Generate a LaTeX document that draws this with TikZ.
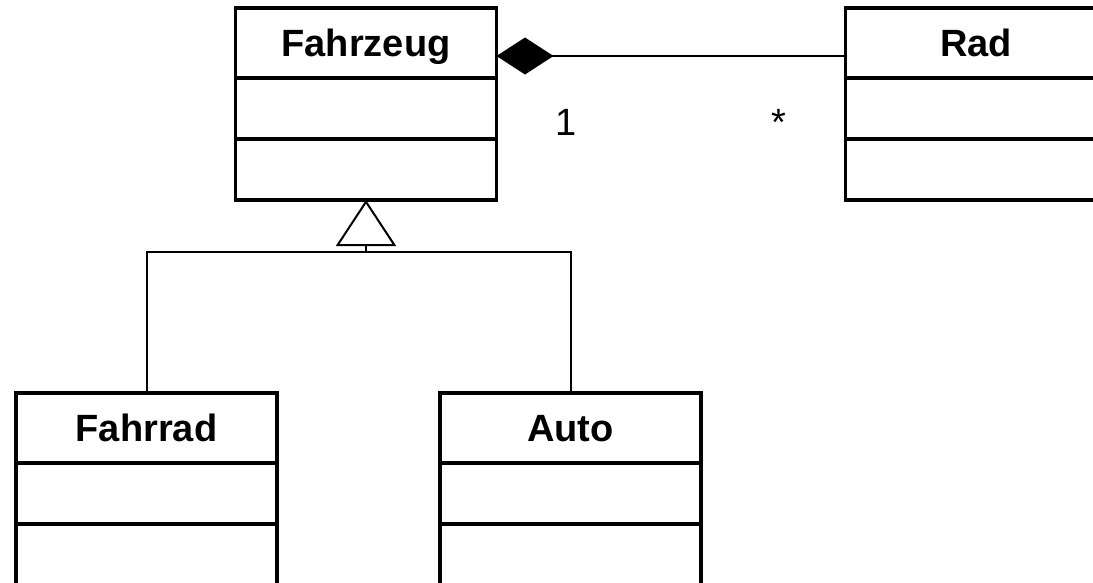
\documentclass[tikz,border=0pt]{standalone}
\usepackage{fontspec}
\setmainfont{Liberation Sans}
\usetikzlibrary{positioning,arrows.meta}
\tikzset{
  classBox/.style={rectangle, draw, line width=3.3pt, outer sep=0pt, inner sep=0pt,
    minimum width=261pt, minimum height=70pt, text height=27pt, text depth=0pt,
    font={\fontsize{38}{44}\selectfont\bfseries}},
  compartment/.style={rectangle, draw, line width=3.3pt, outer sep=0pt, inner sep=0pt,
    minimum width=261pt, minimum height=61pt},
  inherit/.style={-{Triangle[open, length=46pt, width=60pt, fill=white]}, line width=2pt},
  compose/.style={{Diamond[length=57pt, width=37pt]}-, line width=2pt},
  mult/.style={anchor=base}
}

\begin{document}
\begin{tikzpicture}[x=1pt, y=-1pt, font={\fontsize{38}{44}\selectfont}]
  \path[use as bounding box, clip] (0,0) rectangle (1093,582);
  % Klassen
  \node [classBox] (fahrzeug) at (366,43) {Fahrzeug};
  \node [classBox, right=349pt of fahrzeug] (rad) {Rad};
  \node [classBox] (fahrrad) at (146.5,428) {Fahrrad};
  \node [classBox] (auto) at (570.5,428) {Auto};
  \foreach \cls in {fahrzeug,rad,fahrrad,auto} {
    \node [compartment, below=0pt of \cls] (\cls-a) {};
    \node [compartment, below=0pt of \cls-a] (\cls-o) {};
  }
  % Vererbung
  \coordinate (knick) at (fahrzeug-o.south |- 0,252);
  \draw [inherit] (knick) -- (fahrzeug-o.south);
  \draw [line width=2pt] (fahrrad.north) |- (knick) -| (auto.north);
  % Komposition
  \draw [compose] ([yshift=-13pt]fahrzeug.east) -- ([yshift=-13pt]rad.west);
  \node [mult] (multEins) at (566,135) {1};
  \node [mult] (multStern) at (779,135) {*};
\end{tikzpicture}
\end{document}
